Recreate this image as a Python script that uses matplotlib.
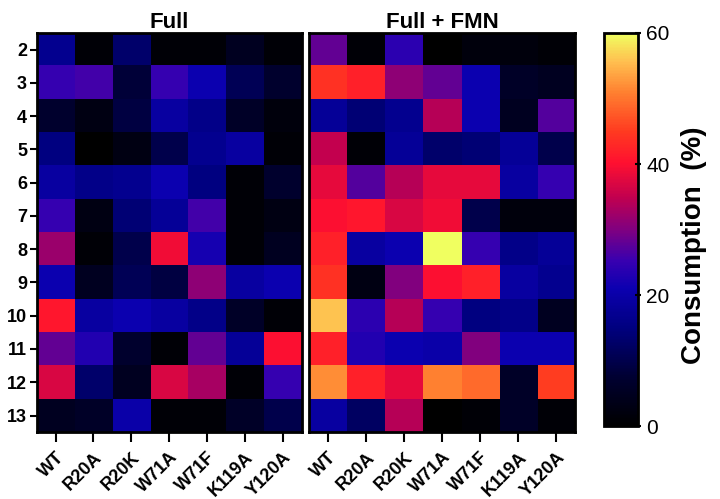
import numpy as np
import matplotlib
matplotlib.use("Agg")
import matplotlib.pyplot as plt
from matplotlib.colors import LinearSegmentedColormap

plt.rcParams['font.family'] = ['Liberation Sans', 'DejaVu Sans']
plt.rcParams['font.weight'] = 'bold'

# Data
variants = ["WT", "R20A", "R20K", "W71A", "W71F", "K119A", "Y120A"]
rows = [str(i) for i in range(2, 14)]

full = np.array([
    [17, 1, 13, 1, 1, 5, 1],
    [25, 26, 8, 25, 21, 11, 7],
    [7, 3, 9, 19, 16, 6, 2],
    [15, 0, 3, 10, 17, 19, 1],
    [19, 16, 17, 21, 15, 1, 7],
    [25, 3, 14, 18, 26, 1, 3],
    [32, 1, 10, 39, 22, 1, 5],
    [21, 5, 11, 9, 31, 19, 21],
    [41, 19, 21, 19, 16, 6, 1],
    [28, 23, 7, 1, 28, 18, 40],
    [37, 13, 5, 37, 33, 1, 25],
    [5, 6, 20, 1, 1, 6, 10],
])

full_fmn = np.array([
    [28, 1, 24, 0, 2, 2, 1],
    [44, 42, 31, 28, 21, 6, 5],
    [18, 14, 17, 34, 21, 5, 27],
    [35, 1, 18, 13, 14, 18, 10],
    [38, 27, 34, 38, 38, 19, 25],
    [40, 41, 37, 39, 10, 2, 2],
    [42, 19, 21, 60, 25, 16, 18],
    [44, 3, 30, 40, 42, 19, 17],
    [56, 24, 34, 25, 15, 16, 5],
    [42, 23, 21, 20, 30, 21, 21],
    [52, 42, 38, 51, 49, 6, 45],
    [19, 12, 34, 0, 1, 6, 1],
])

# colormap similar to "fire"
cmap = LinearSegmentedColormap.from_list("fire", [
    (0.0, "#000000"),
    (0.12, "#000030"),
    (0.25, "#000080"),
    (0.35, "#0c00b0"),
    (0.42, "#3800b0"),
    (0.50, "#800080"),
    (0.58, "#c00050"),
    (0.67, "#ff1030"),
    (0.75, "#ff3a20"),
    (0.85, "#ff8030"),
    (0.93, "#ffc050"),
    (1.0, "#f0ff60"),
])

fig = plt.figure(figsize=(7.2, 4.99), dpi=100)
ax1 = fig.add_axes([0.051, 0.134, 0.368, 0.800])
ax2 = fig.add_axes([0.429, 0.134, 0.370, 0.800])
cax = fig.add_axes([0.839, 0.146, 0.047, 0.788])

for ax, data, title in [(ax1, full, "Full"), (ax2, full_fmn, "Full + FMN")]:
    im = ax.imshow(data, cmap=cmap, vmin=0, vmax=60, aspect='auto', interpolation='nearest')
    ax.set_title(title, fontsize=16, fontweight='bold', pad=3)
    ax.set_xticks(range(len(variants)))
    ax.set_xticklabels(variants, rotation=45, ha='right', rotation_mode='anchor', fontsize=13, fontweight='bold')
    ax.tick_params(axis='x', length=7, width=1.5, pad=5)
    for s in ax.spines.values():
        s.set_linewidth(2)
    if ax is ax1:
        ax.set_yticks(range(len(rows)))
        ax.set_yticklabels(rows, fontsize=13, fontweight='bold')
        ax.tick_params(axis='y', length=5, width=1.5, pad=2)
    else:
        ax.set_yticks([])

cb = fig.colorbar(im, cax=cax)
cb.set_ticks([0, 20, 40, 60])
cb.ax.tick_params(labelsize=15, length=5, width=1.5, direction='inout')
for t in cb.ax.get_yticklabels():
    t.set_fontweight('normal')
cb.outline.set_linewidth(2)
cb.set_label("Consumption  (%)", fontsize=20, fontweight='bold', labelpad=8)
cb.ax.yaxis.label.set_y(0.46)

fig.savefig("out.png", dpi=100)
